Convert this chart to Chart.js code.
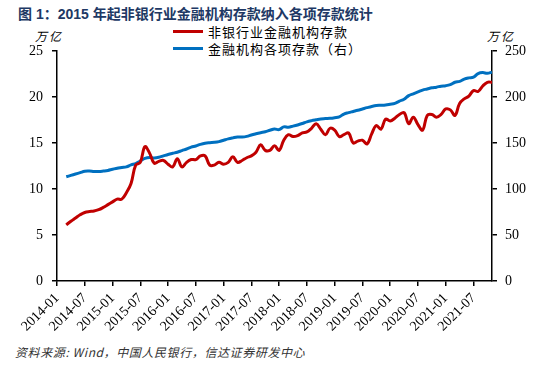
<!DOCTYPE html>
<html>
<head>
<meta charset="utf-8">
<script src="https://cdn.jsdelivr.net/npm/chart.js@4"></script>
<style>
  body { margin: 0; background: #fff; }
  #wrap { position: relative; width: 535px; height: 373px; overflow: hidden; font-family: "Noto Sans CJK SC", sans-serif; }
  #title { position: absolute; left: 18px; top: 3px; font-size: 14px; font-weight: bold; color: #203864; white-space: nowrap; font-family: Arial, "Liberation Sans", "Noto Sans CJK SC", sans-serif; }
  .unit { position: absolute; top: 27px; font-size: 12px; letter-spacing: 2px; color: #000; font-style: italic; }
  #legend { position: absolute; left: 173px; top: 23px; font-size: 13px; letter-spacing: 1px; color: #000; }
  #legend div { display: flex; align-items: center; height: 17px; white-space: nowrap; }
  #legend span.sw { display: inline-block; width: 30px; height: 3px; margin-right: 5px; }
  #source { position: absolute; left: 15px; top: 343px; font-size: 12px; font-style: italic; letter-spacing: 0.6px; color: #333; white-space: nowrap; }
  #probe { position: absolute; left: -200px; top: 0; font-family: "Liberation Serif"; font-size: 14px; }
  canvas { position: absolute; left: 0; top: 0; }
</style>
</head>
<body>
<div id="wrap">
  <div id="title">图 1：2015 年起非银行业金融机构存款纳入各项存款统计</div>
  <div class="unit" style="left:35px">万亿</div>
  <div class="unit" style="left:487px">万亿</div>
  <div id="legend"></div>
  <canvas id="chart" width="535" height="340"></canvas>
  <div id="source">资料来源: Wind，中国人民银行，信达证券研发中心</div>
  <span id="probe">2014-07</span>
</div>
<script>
// months 2014-01 .. 2021-11
const months = [];
for (let y = 2014; y <= 2021; y++) {
    for (let m = 1; m <= 12; m++) {
        if (y === 2021 && m > 11) break;
        months.push(y + '-' + String(m).padStart(2, '0'));
    }
}

// 非银行业金融机构存款, 万亿 (from 2014-03)
const nonBank = [null, null,
    6.1, 6.5, 6.85, 7.2, 7.45, 7.55, 7.6, 7.75, 8.0, 8.3, 8.6, 8.9, 8.9, 9.6, 10.6, 12.6, 12.9, 14.6,
    13.9, 12.8, 13.0, 13.1, 12.7, 12.4, 13.3, 12.4, 12.9, 13.2, 13.2, 13.6, 13.6, 12.6, 12.6, 12.9, 12.7, 12.9, 13.5, 12.9,
    13.1, 13.4, 13.6, 14.0, 14.8, 14.2, 14.2, 14.7, 14.2, 15.3, 15.9, 15.7, 15.8, 16.1, 16.2, 16.6, 17.1, 16.5, 15.9, 16.6,
    16.4, 15.7, 15.9, 16.1, 15.0, 15.2, 15.3, 14.9, 16.0, 16.9, 16.5, 17.6, 17.4, 17.7, 18.1, 18.3, 17.1, 17.8, 17.0,
    16.4, 18.0, 18.1, 17.8, 18.1, 18.7, 18.6, 18.0, 19.3, 19.8, 20.1, 20.7, 20.6, 21.2, 21.6, 21.6];

// 金融机构各项存款 (右轴), 万亿
const allDeposits = [null, null,
    113.3, 114.8, 116.3, 117.8, 119.3, 119.5, 119.0, 119.0, 119.5, 120.2, 121.5, 122.5, 123.4, 124.0, 126.3, 127.6, 130.5, 133.3, 134.3,
    133.8, 134.5, 136.0, 137.5, 138.8, 140.0, 141.8, 143.5, 145.5, 146.8, 148.5, 149.7, 150.3, 150.7, 151.5, 153.0, 154.5, 155.6, 156.5,
    156.5, 157.2, 158.7, 160.0, 161.2, 162.3, 163.8, 165.2, 164.6, 167.5, 167.2, 168.3, 169.6, 171.2, 173.0, 174.3, 175.3, 176.2, 176.5, 176.8,
    177.5, 178.5, 181.5, 183.0, 184.3, 185.6, 187.0, 188.4, 189.7, 190.7, 191.0, 191.4, 192.2, 193.1, 195.5, 197.5, 201.5, 203.5, 205.5,
    207.5, 208.7, 210.0, 210.7, 211.8, 212.3, 213.5, 216.0, 217.0, 219.5, 220.8, 221.5, 225.5, 226.5, 225.8, 227.0];

const seriesNames = ['非银行业金融机构存款', '金融机构各项存款（右）'];
const seriesColors = ['#c00000', '#0070c0'];

// legend
const legend = document.getElementById('legend');
seriesNames.forEach((name, i) => {
    const row = document.createElement('div');
    row.innerHTML = `<span class="sw" style="background:${seriesColors[i]}"></span>${name}`;
    legend.appendChild(row);
});

Chart.defaults.font.family = 'Liberation Serif';
const tickFont = { family: 'Liberation Serif', size: 14 };

new Chart(document.getElementById('chart'), {
    type: 'line',
    data: {
        labels: months,
        datasets: [{
            label: seriesNames[0],
            data: nonBank,
            borderColor: seriesColors[0],
            borderWidth: 3,
            pointRadius: 0,
            tension: 0.4,
            yAxisID: 'y'
        }, {
            label: seriesNames[1],
            data: allDeposits,
            borderColor: seriesColors[1],
            borderWidth: 3,
            pointRadius: 0,
            tension: 0.4,
            yAxisID: 'y1'
        }]
    },
    options: {
        responsive: false,
        animation: false,
        layout: { padding: { top: 51, left: 0, right: 0, bottom: 0 } },
        plugins: { legend: { display: false }, tooltip: { enabled: false } },
        scales: {
            x: {
                offset: false,
                border: { color: '#000', width: 1.5 },
                grid: {
                    drawOnChartArea: false,
                    tickLength: 5,
                    color: ctx => (ctx.index % 6 === 0 ? '#000' : 'rgba(0,0,0,0)'),
                    lineWidth: 1.5
                },
                ticks: {
                    autoSkip: false,
                    minRotation: 45,
                    maxRotation: 45,
                    padding: 4,
                    color: '#000',
                    font: tickFont,
                    callback: function (v, i) { return i % 6 === 0 ? this.getLabelForValue(v) : ''; }
                },
                afterFit: s => { s.height = 59; }
            },
            y: {
                position: 'left',
                min: 0, max: 25,
                border: { color: '#000', width: 1.5 },
                grid: { drawOnChartArea: false, tickLength: 5, color: '#000', lineWidth: 1.5 },
                ticks: { stepSize: 5, padding: 9, color: '#000', font: tickFont },
                afterFit: s => { s.width = 57; }
            },
            y1: {
                position: 'right',
                min: 0, max: 250,
                border: { color: '#000', width: 1.5 },
                grid: { drawOnChartArea: false, tickLength: 5, color: '#000', lineWidth: 1.5 },
                ticks: { stepSize: 50, padding: 8, color: '#000', font: tickFont },
                afterFit: s => { s.width = 43; }
            }
        }
    }
});
</script>
</body>
</html>
